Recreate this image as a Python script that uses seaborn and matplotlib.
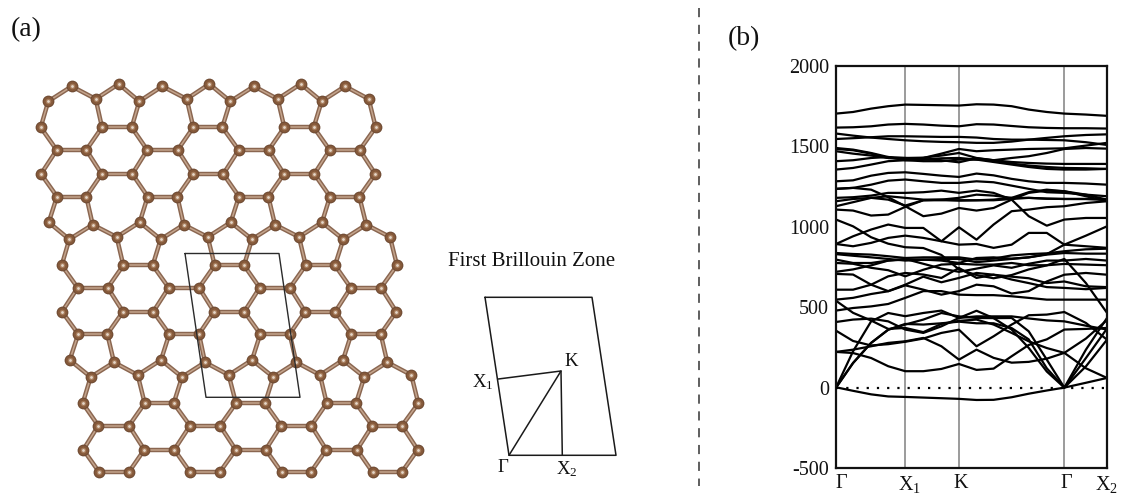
import numpy as np
import pandas as pd
import matplotlib.pyplot as plt
from matplotlib.collections import LineCollection
from matplotlib.transforms import ScaledTranslation
import seaborn as sns

# atoms of the sheet, one list per row, in picture pixels
row_01_x = [48.3, 71.7, 95.7, 118.7, 139.3, 162.3, 186.7, 209.3, 230.3, 254, 277.7, 300.7, 321.7, 345, 368.7]
row_01_y = [101.3, 86.3, 99, 84, 101.3, 86.3, 99, 84, 101.3, 86.3, 99, 84, 101.3, 86.3, 99]
row_02_x = [40.7, 102, 131.7, 193.3, 222.3, 284.3, 313.7, 375.7]
row_03_x = [56.7, 86.3, 147.3, 177.7, 238.7, 268.7, 329.7, 359.7]
row_04_x = [41, 101.7, 132.3, 193, 223.3, 284, 314.3, 375.3]
row_05_x = [57, 86.3, 147.7, 177.3, 239, 268.3, 330, 359.3]
row_06_x = [48.7, 69.3, 92.7, 116.7, 139.7, 160.7, 183.7, 207.7, 230.7, 252, 275, 299, 322, 343.3, 366.3, 390]
row_06_y = [222.3, 239.3, 224.7, 237, 222.3, 239.3, 224.7, 237, 222.3, 239.3, 224.7, 237, 222.3, 239.3, 224.7, 237]
row_07_x = [61.7, 123.3, 152.7, 214.7, 244, 305.7, 335, 397]
row_08_x = [77.7, 107.7, 168.7, 199, 259.7, 290, 350.7, 381]
row_09_x = [62, 123, 153.3, 214, 244.3, 305, 335.3, 396.3]
row_10_x = [78.3, 107.3, 169.3, 199, 260.3, 289.7, 351.3, 380.7]
row_11_x = [69.7, 90.7, 114, 137.7, 161, 182, 205, 228.7, 252, 273.3, 296.3, 320, 343, 364.3, 387.3, 411.3]
row_11_y = [360, 377, 362.3, 375, 360, 377, 362.3, 375, 360, 377, 362.3, 375, 360, 377, 362.3, 375]
row_12_x = [82.7, 144.7, 173.7, 236, 265, 326.7, 356, 418.3]
row_13_x = [98.3, 129, 190, 220, 281, 311.3, 372.3, 402]
row_14_x = [83.3, 144.3, 174.3, 235.7, 265.7, 326.3, 357, 417.7]
row_15_x = [99.3, 128.7, 190.3, 219.7, 281.7, 310.7, 372.7, 401.7]
flat_rows = [(row_02_x, 127.3), (row_03_x, 150), (row_04_x, 174), (row_05_x, 196.5), (row_07_x, 265.3),
             (row_08_x, 287.7), (row_09_x, 311.7), (row_10_x, 334), (row_12_x, 403.3), (row_13_x, 425.7),
             (row_14_x, 449.7), (row_15_x, 472.3)]

# phonon path
k_ticks = [0, 69, 122.5, 227.5, 270]
k_labels = ["Γ", r"$\mathrm{X_1}$", "K", "Γ", r"$\mathrm{X_2}$"]
k_points = [0, 17, 35, 52, 69, 87, 105, 122.5, 140, 157, 175, 192, 210, 227.5, 249, 270]
freq_ticks = [-500, 0, 500, 1000, 1500, 2000]
freq_labels = ["-500", "0", "500", "1000", "1500", "2000"]

# bands (cm-1 at each k point)
band_01 = [1704, 1714, 1735, 1750, 1760, 1758, 1756, 1754, 1762, 1760, 1750, 1729, 1714, 1704, 1698, 1690]
band_02 = [1617, 1619, 1625, 1636, 1640, 1636, 1629, 1625, 1638, 1636, 1627, 1619, 1615, 1613, 1613, 1611]
band_03 = [1580, 1567, 1555, 1546, 1538, 1532, 1528, 1526, 1522, 1522, 1530, 1542, 1553, 1563, 1571, 1575]
band_04 = [1546, 1551, 1557, 1563, 1563, 1561, 1559, 1559, 1555, 1546, 1542, 1542, 1540, 1538, 1526, 1509]
band_05 = [1484, 1476, 1455, 1428, 1422, 1428, 1455, 1484, 1470, 1476, 1480, 1484, 1486, 1488, 1505, 1522]
band_06 = [1490, 1480, 1459, 1434, 1414, 1408, 1408, 1418, 1418, 1403, 1387, 1372, 1360, 1356, 1356, 1360]
band_07 = [1470, 1455, 1443, 1428, 1428, 1430, 1443, 1459, 1428, 1414, 1428, 1439, 1459, 1484, 1490, 1486]
band_08 = [1356, 1366, 1387, 1408, 1414, 1418, 1426, 1428, 1418, 1414, 1403, 1397, 1393, 1391, 1391, 1391]
band_09 = [1408, 1414, 1428, 1434, 1428, 1422, 1414, 1401, 1426, 1414, 1393, 1381, 1372, 1366, 1364, 1360]
band_10 = [1283, 1289, 1318, 1335, 1339, 1329, 1318, 1310, 1331, 1320, 1298, 1283, 1273, 1273, 1269, 1262]
band_11 = [1236, 1242, 1262, 1287, 1294, 1283, 1273, 1273, 1283, 1277, 1256, 1236, 1215, 1211, 1200, 1190]
band_12 = [1236, 1242, 1231, 1184, 1128, 1066, 1082, 1117, 1101, 1117, 1169, 1211, 1225, 1221, 1200, 1169]
band_13 = [1180, 1184, 1194, 1211, 1211, 1215, 1225, 1211, 1225, 1211, 1169, 1066, 1007, 1045, 1055, 1055]
band_14 = [1128, 1153, 1180, 1190, 1180, 1169, 1169, 1180, 1200, 1194, 1180, 1180, 1175, 1173, 1173, 1169]
band_15 = [1159, 1173, 1180, 1169, 1132, 1165, 1169, 1163, 1165, 1169, 1180, 1215, 1231, 1221, 1190, 1159]
band_16 = [1107, 1101, 1070, 1076, 1124, 1165, 1165, 1165, 1165, 1165, 1173, 1180, 1175, 1173, 1173, 1169]
band_17 = [1045, 1003, 935, 895, 873, 868, 825, 735, 700, 680, 700, 735, 760, 800, 650, 465]
band_18 = [893, 941, 983, 1014, 993, 993, 910, 889, 893, 869, 889, 962, 962, 889, 879, 869]
band_19 = [893, 879, 900, 931, 945, 931, 910, 997, 920, 1014, 1097, 1107, 1122, 1128, 1148, 1159]
band_20 = [830, 820, 810, 800, 790, 795, 800, 800, 780, 790, 800, 810, 830, 889, 945, 1003]
band_21 = [837, 831, 827, 817, 806, 810, 810, 810, 796, 802, 822, 830, 835, 848, 860, 864]
band_22 = [796, 775, 775, 790, 796, 796, 790, 775, 806, 810, 802, 810, 827, 837, 833, 833]
band_23 = [775, 770, 745, 730, 692, 733, 765, 770, 765, 765, 775, 761, 761, 769, 765, 761]
band_24 = [609, 609, 640, 692, 713, 703, 682, 744, 682, 702, 672, 650, 625, 620, 612, 620]
band_25 = [547, 558, 582, 599, 636, 609, 578, 600, 640, 630, 585, 600, 660, 702, 713, 702]
band_26 = [707, 703, 640, 600, 640, 690, 655, 682, 713, 702, 690, 680, 650, 660, 630, 625]
band_27 = [720, 735, 760, 790, 800, 770, 740, 720, 740, 760, 745, 770, 790, 790, 800, 790]
band_28 = [2, -20, -42, -55, -58, -62, -66, -70, -77, -76, -60, -38, -18, 0, 30, 60]
band_29 = [0, 226, 412, 464, 444, 464, 479, 433, 478, 432, 361, 247, 100, 0, 236, 433]
band_30 = [0, 153, 278, 360, 392, 423, 464, 443, 433, 432, 433, 350, 174, 0, 184, 367]
band_31 = [0, 153, 278, 360, 396, 392, 400, 410, 400, 400, 370, 300, 120, 0, 132, 298]
band_32 = [222, 215, 184, 133, 102, 102, 116, 147, 110, 118, 195, 265, 300, 361, 365, 371]
band_33 = [222, 236, 257, 278, 288, 309, 257, 174, 236, 185, 155, 160, 180, 216, 305, 420]
band_34 = [354, 290, 262, 270, 285, 305, 340, 360, 257, 319, 392, 450, 454, 470, 402, 298]
band_35 = [408, 423, 429, 412, 361, 340, 381, 433, 443, 443, 443, 430, 418, 412, 385, 361]
band_36 = [479, 495, 505, 520, 558, 600, 600, 578, 575, 575, 568, 558, 547, 547, 547, 547]
band_37 = [540, 465, 417, 365, 371, 345, 396, 415, 423, 392, 340, 288, 246, 216, 120, 60]
bands = [band_01, band_02, band_03, band_04, band_05, band_06, band_07, band_08, band_09, band_10,
         band_11, band_12, band_13, band_14, band_15, band_16, band_17, band_18, band_19, band_20,
         band_21, band_22, band_23, band_24, band_25, band_26, band_27, band_28, band_29, band_30,
         band_31, band_32, band_33, band_34, band_35, band_36, band_37]

sns.set_theme(style="white")
plt.rcParams["font.family"] = ["Liberation Serif", "DejaVu Sans"]
plt.rcParams["mathtext.fontset"] = "custom"
plt.rcParams["mathtext.rm"] = "Liberation Serif"
W, H = 1121, 493
fig = plt.figure(figsize=(W / 100, H / 100), dpi=100)

# panel (a) is drawn on a full figure axes in pixels
ax = fig.add_axes([0, 0, 1, 1])
atom_x = list(row_01_x) + list(row_06_x) + list(row_11_x)
atom_y = list(row_01_y) + list(row_06_y) + list(row_11_y)
for xs, y in flat_rows:
    atom_x += xs
    atom_y += [y] * len(xs)
atoms = pd.DataFrame({"x": atom_x, "y": atom_y})

# bonds: every pair of atoms closer than a bond length
xy = atoms.to_numpy()
dist = np.hypot(xy[:, None, 0] - xy[None, :, 0], xy[:, None, 1] - xy[None, :, 1])
ii, jj = np.where(np.triu(dist < 34, 1))
segs = [[xy[i], xy[j]] for i, j in zip(ii, jj)]
ax.add_collection(LineCollection(segs, colors="#8a6650", linewidths=3.2, zorder=2))
ax.add_collection(LineCollection(segs, colors="#c4a48c", linewidths=1.1, zorder=2.1))

for size, col, z in [(72, "#6d4a33", 3), (50, "#85593a", 3.1), (16, "#a67c5c", 3.2), (4, "#e4d6c8", 3.3)]:
    sns.scatterplot(data=atoms, x="x", y="y", s=size, color=col, linewidth=0, ax=ax, zorder=z, legend=False)
ax.set_xlim(0, W)
ax.set_ylim(H, 0)
ax.axis("off")

# real space cell
ax.plot([185, 279, 300, 206, 185], [253.5, 253.5, 397.3, 397.3, 253.5], color="#2b2b2b", lw=1.0, zorder=4)

# Brillouin zone sketch
ax.plot([485, 592, 616, 509, 485], [297.3, 297.3, 455.3, 455.3, 297.3], color="#1a1a1a", lw=1.1)
ax.plot([509, 561, 498.3], [455.3, 371, 379], color="#1a1a1a", lw=1.1)
ax.plot([561, 562.3], [371, 455.3], color="#1a1a1a", lw=1.1)
ax.text(531.5, 261, "First Brillouin Zone", fontsize=15, ha="center", va="center", color="#111111")
ax.text(571, 361, "K", fontsize=13.5, ha="center", va="center", color="#111111")
ax.text(483, 382, r"$\mathrm{X_1}$", fontsize=13.5, ha="center", va="center", color="#111111")
ax.text(503, 468, "Γ", fontsize=13.5, ha="center", va="center", color="#111111")
ax.text(567, 469, r"$\mathrm{X_2}$", fontsize=13.5, ha="center", va="center", color="#111111")

ax.text(11, 30, "(a)", fontsize=20, ha="left", va="center", color="#111111")
ax.text(728, 39, "(b)", fontsize=20, ha="left", va="center", color="#111111")
ax.plot([699, 699], [8, 486], color="#333333", lw=1.1, ls=(0, (6, 5)))

# panel (b) band structure
ax_b = fig.add_axes([836 / W, (H - 468) / H, 271 / W, 402 / H])
long_df = pd.DataFrame(
    [(n, k, v) for n, band in enumerate(bands) for k, v in zip(k_points, band)],
    columns=["band", "k", "freq"],
)
sns.lineplot(data=long_df, x="k", y="freq", units="band", estimator=None, color="black",
             lw=1.6, ax=ax_b, legend=False, solid_joinstyle="round")
for k in k_ticks[1:4]:
    ax_b.axvline(k, color="#808080", lw=1.1, zorder=1)
ax_b.plot([k_ticks[0], k_ticks[-1]], [0, 0], color="black", lw=1.6, ls=(0, (1, 3.6)), zorder=3)
ax_b.set_xlim(k_ticks[0], k_ticks[-1])
ax_b.set_ylim(-500, 2000)
ax_b.set_xlabel("")
ax_b.set_ylabel("")
ax_b.set_yticks(freq_ticks)
ax_b.set_yticklabels(freq_labels)
ax_b.set_xticks(k_ticks)
ax_b.set_xticklabels(k_labels)
ax_b.tick_params(axis="both", length=0, labelsize=14.5, colors="#111111")
ax_b.tick_params(axis="x", pad=4.5)
ax_b.tick_params(axis="y", pad=5)
for lab, dx in zip(ax_b.get_xticklabels(), [5, 4, 2, 2, -1]):
    lab.set_transform(lab.get_transform() + ScaledTranslation(dx / 100, 0, fig.dpi_scale_trans))
for sp in ax_b.spines.values():
    sp.set_color("#111111")
    sp.set_linewidth(1.6)

fig.savefig("out.png", dpi=100)
